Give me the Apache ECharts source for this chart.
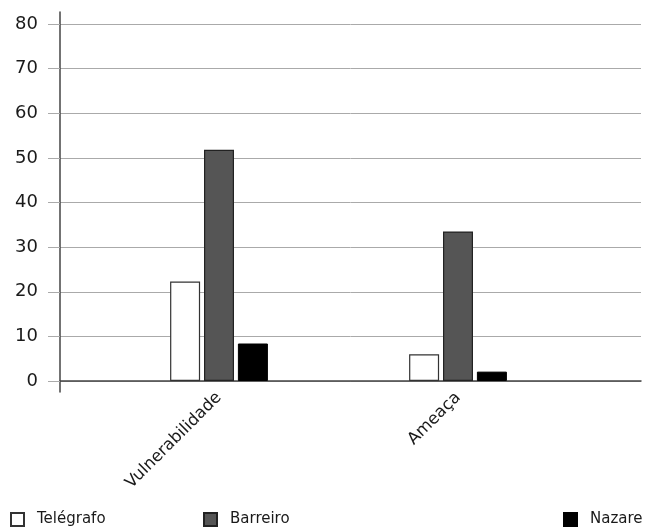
<!DOCTYPE html>
<html>
<head>
<meta charset="utf-8">
<script src="https://cdn.jsdelivr.net/npm/echarts@6/dist/echarts.min.js"></script>
<style>
  html, body { margin: 0; padding: 0; background: #fff; }
  #chart { width: 657px; height: 532px; }
</style>
</head>
<body>
<div id="chart"></div>
<script>
// Indicator categories and values per site
const categories = ['Vulnerabilidade', 'Ameaça'];
const telegrafo = [22.3, 6.0];
const barreiro = [51.8, 33.5];
const nazare = [8.4, 2.1];
const yTicks = { min: 0, max: 80, interval: 10 };

const FONT = 'DejaVu Sans';
const chart = echarts.init(document.getElementById('chart'), null, { renderer: 'canvas' });

const legendBase = {
  orient: 'horizontal',
  bottom: 0,
  icon: 'rect',
  itemWidth: 13,
  itemHeight: 13,
  textStyle: { fontFamily: FONT, fontSize: 15, color: '#1a1a1a', padding: [0, 0, 0, 8] },
  selectedMode: false
};

chart.setOption({
  animation: false,
  backgroundColor: '#fff',
  grid: [
    // value scale with gridlines and tick labels
    { left: 60, right: 16, top: 24, bottom: 151 },
    // bar groups
    { left: 99.5, right: 79.5, top: 24, bottom: 151 },
    // long vertical axis line
    { left: 60, width: 10, top: 12, bottom: 140 }
  ],
  legend: [
    Object.assign({}, legendBase, { left: 5, data: ['Telégrafo'] }),
    Object.assign({}, legendBase, { left: 198, data: ['Barreiro'] }),
    Object.assign({}, legendBase, { left: 558, data: ['Nazare'] })
  ],
  xAxis: [
    {
      gridIndex: 0, type: 'value', min: 0, max: 1,
      axisLine: { show: true, lineStyle: { color: '#444', width: 1.5 } },
      axisTick: { show: false }, axisLabel: { show: false }, splitLine: { show: false }
    },
    {
      gridIndex: 1, type: 'category', data: categories,
      axisLine: { show: false }, axisTick: { show: false },
      axisLabel: {
        rotate: 45, margin: 14, interval: 0,
        fontFamily: FONT, fontSize: 16.5, color: '#1a1a1a'
      }
    },
    {
      gridIndex: 2, type: 'value', show: false
    }
  ],
  yAxis: [
    {
      gridIndex: 0, type: 'value',
      min: yTicks.min, max: yTicks.max, interval: yTicks.interval,
      axisLine: { show: false },
      axisTick: { show: true, length: 12, lineStyle: { color: '#aaa' } },
      axisLabel: { fontFamily: FONT, fontSize: 18, color: '#1a1a1a', margin: 22 },
      splitLine: { show: true, lineStyle: { color: '#aaa', width: 1 } }
    },
    {
      gridIndex: 1, type: 'value',
      min: yTicks.min, max: yTicks.max, show: false
    },
    {
      gridIndex: 2, type: 'value', min: 0, max: 1,
      axisLine: { show: true, lineStyle: { color: '#444', width: 1.5 } },
      axisTick: { show: false }, axisLabel: { show: false }, splitLine: { show: false }
    }
  ],
  series: [
    {
      name: 'Telégrafo', type: 'bar', xAxisIndex: 1, yAxisIndex: 1,
      data: telegrafo, barWidth: 30, barGap: '13%',
      itemStyle: { color: '#fff', borderColor: '#333', borderWidth: 1.2 }
    },
    {
      name: 'Barreiro', type: 'bar', xAxisIndex: 1, yAxisIndex: 1,
      data: barreiro, barWidth: 30, barGap: '13%',
      itemStyle: { color: '#555', borderColor: '#222', borderWidth: 1.2 }
    },
    {
      name: 'Nazare', type: 'bar', xAxisIndex: 1, yAxisIndex: 1,
      data: nazare, barWidth: 30, barGap: '13%',
      itemStyle: { color: '#000', borderColor: '#000', borderWidth: 1 }
    }
  ]
});
</script>
</body>
</html>
